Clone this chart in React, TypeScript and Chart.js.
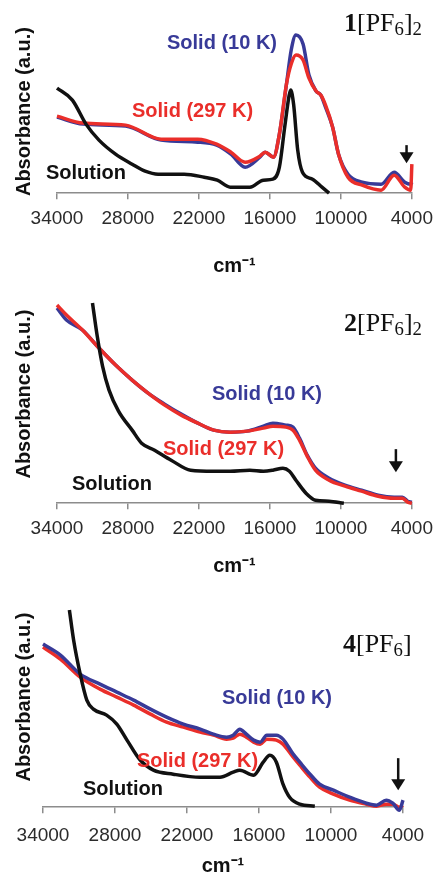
import React, { useEffect, useRef } from "react";
import { Chart, registerables } from "chart.js";

Chart.register(...registerables);

// ---------- data ----------
const X_TICKS = [34000, 28000, 22000, 16000, 10000, 4000];

// Panel 1 : 1[PF6]2
const P1_SOLID_WN = [34000, 31800, 28200, 25200, 22100, 20500, 19300, 18100, 16850, 16400, 15700, 15200, 14600, 14200, 13800, 13200, 12700, 12100, 11700, 11300, 10700, 10200, 9400, 8200, 6600, 5500, 4600, 4100, 4000];
const P1_SOLID_10K = [0.76, 0.69, 0.67, 0.53, 0.51, 0.48, 0.39, 0.26, 0.36, 0.41, 0.36, 0.59, 1.09, 1.43, 1.58, 1.49, 1.18, 1.02, 0.98, 0.86, 0.66, 0.39, 0.19, 0.11, 0.09, 0.21, 0.11, 0.09, 0.11];
const P1_SOLID_297K = [0.77, 0.70, 0.68, 0.54, 0.54, 0.49, 0.41, 0.31, 0.37, 0.41, 0.36, 0.59, 1.09, 1.29, 1.38, 1.33, 1.15, 1.02, 0.98, 0.88, 0.66, 0.39, 0.16, 0.08, 0.03, 0.18, 0.06, 0.03, 0.29];
const P1_SOLN_WN = [34000, 32700, 31550, 30450, 29050, 27650, 26550, 25450, 23250, 21550, 20450, 19350, 17700, 16550, 15750, 15200, 14750, 14400, 14250, 14000, 13650, 13250, 12400, 11600, 11000];
const P1_SOLN = [1.05, 0.93, 0.69, 0.53, 0.39, 0.29, 0.22, 0.19, 0.19, 0.16, 0.13, 0.06, 0.06, 0.13, 0.14, 0.26, 0.66, 0.96, 1.03, 0.89, 0.43, 0.21, 0.14, 0.06, 0.0];

// Panel 2 : 2[PF6]2
const P2_SOLID_WN = [34000, 33200, 31850, 30450, 29050, 27650, 26300, 24900, 23500, 22100, 20750, 19350, 17950, 16550, 15750, 14650, 14050, 13500, 12850, 12150, 11000, 9650, 8250, 6850, 5500, 4800, 4350, 4000];
const P2_SOLID_10K = [1.95, 1.83, 1.73, 1.55, 1.38, 1.23, 1.10, 0.99, 0.89, 0.80, 0.73, 0.71, 0.72, 0.77, 0.80, 0.78, 0.76, 0.65, 0.48, 0.35, 0.25, 0.18, 0.13, 0.08, 0.06, 0.06, 0.02, 0.01];
const P2_SOLID_297K = [1.98, 1.88, 1.73, 1.55, 1.38, 1.23, 1.10, 0.98, 0.88, 0.80, 0.73, 0.71, 0.72, 0.75, 0.77, 0.76, 0.73, 0.63, 0.47, 0.33, 0.23, 0.17, 0.12, 0.07, 0.05, 0.05, 0.01, 0.0];
const P2_SOLN_WN = [31000, 30600, 30150, 29600, 28800, 27650, 26850, 25750, 24350, 22700, 20750, 19350, 17700, 16550, 15750, 14900, 14350, 13800, 12950, 12150, 11000, 9750];
const P2_SOLN = [2.0, 1.67, 1.37, 1.13, 0.92, 0.73, 0.60, 0.53, 0.43, 0.33, 0.32, 0.32, 0.33, 0.32, 0.33, 0.35, 0.32, 0.23, 0.10, 0.03, 0.02, 0.0];

// Panel 3 : 4[PF6]
const P3_SOLID_WN = [34000, 32550, 30900, 29250, 27850, 26450, 25050, 23700, 22300, 20900, 19800, 18700, 18150, 17600, 17050, 16450, 15900, 15350, 14550, 14000, 13150, 12600, 11750, 10950, 9800, 8450, 7050, 6200, 5400, 4850, 4300, 4000];
const P3_SOLID_10K = [1.63, 1.52, 1.33, 1.23, 1.15, 1.07, 0.98, 0.90, 0.83, 0.78, 0.73, 0.70, 0.72, 0.78, 0.73, 0.67, 0.65, 0.72, 0.72, 0.68, 0.53, 0.45, 0.33, 0.23, 0.17, 0.10, 0.04, 0.02, 0.07, 0.04, -0.03, 0.07];
const P3_SOLID_297K = [1.60, 1.48, 1.30, 1.18, 1.10, 1.02, 0.93, 0.85, 0.80, 0.75, 0.72, 0.68, 0.69, 0.73, 0.70, 0.65, 0.63, 0.68, 0.67, 0.63, 0.50, 0.42, 0.30, 0.20, 0.13, 0.07, 0.03, 0.01, 0.03, 0.03, 0.0, 0.02];
const P3_SOLN_WN = [31800, 31450, 30900, 30350, 29800, 28700, 27850, 27000, 25900, 24800, 23150, 20900, 19250, 18150, 17600, 16450, 15650, 15100, 14550, 14000, 13450, 12600, 11350];
const P3_SOLN = [1.97, 1.67, 1.33, 1.07, 0.98, 0.92, 0.83, 0.67, 0.47, 0.37, 0.33, 0.30, 0.30, 0.35, 0.37, 0.32, 0.45, 0.52, 0.45, 0.23, 0.10, 0.03, 0.01];

// arrow marks (wavenumber, from / to absorbance)
const P1_ARROW = [4450, 0.48, 0.3];
const P2_ARROW = [5350, 0.54, 0.31];
const P3_ARROW = [4400, 0.49, 0.17];

// ---------- styles ----------
const SANS = '"Liberation Sans", Arial, Helvetica, sans-serif';
const SERIF = '"Liberation Serif", "Times New Roman", serif';
const BLUE = "#383a98";
const RED = "#ea2e2a";
const BLACK = "#111111";
const GREY = "#8c8c8c";

type Series = { wn: number[]; abs: number[]; color: string };
type PanelCfg = {
  height: number;
  padTop: number;
  padRight: number;
  yMax: number;
  yTitlePadBottom: number;
  tickPad: number;
  xTitlePadTop: number;
  xTitleLH: number;
  series: Series[];
  arrow: number[];
};

function makeArrowPlugin(arrow: number[]) {
  return {
    id: "arrowMark",
    afterDatasetsDraw(chart: any) {
      const { ctx, scales } = chart;
      const px = scales.x.getPixelForValue(arrow[0]);
      const y1 = scales.y.getPixelForValue(arrow[1]);
      const y2 = scales.y.getPixelForValue(arrow[2]);
      ctx.save();
      ctx.strokeStyle = "#111";
      ctx.fillStyle = "#111";
      ctx.lineWidth = 2.5;
      ctx.beginPath();
      ctx.moveTo(px, y1);
      ctx.lineTo(px, y2 - 8);
      ctx.stroke();
      ctx.beginPath();
      ctx.moveTo(px - 7, y2 - 11);
      ctx.lineTo(px + 7, y2 - 11);
      ctx.lineTo(px, y2);
      ctx.closePath();
      ctx.fill();
      ctx.restore();
    },
  };
}

function buildChart(canvas: HTMLCanvasElement, cfg: PanelCfg) {
  return new Chart(canvas, {
    type: "line",
    data: {
      datasets: cfg.series.map((s) => ({
        data: s.wn.map((x, i) => ({ x, y: s.abs[i] })),
        borderColor: s.color,
        backgroundColor: s.color,
        borderWidth: 3.5,
        pointRadius: 0,
        fill: false,
        cubicInterpolationMode: "monotone" as const,
        clip: 8,
      })),
    },
    options: {
      responsive: false,
      animation: false,
      devicePixelRatio: 1,
      layout: { padding: { top: cfg.padTop, left: 0, right: cfg.padRight, bottom: 0 } },
      plugins: { legend: { display: false }, tooltip: { enabled: false } },
      scales: {
        x: {
          type: "linear",
          min: 4000,
          max: 34000,
          reverse: true,
          afterBuildTicks: (axis: any) => {
            axis.ticks = X_TICKS.map((value) => ({ value }));
          },
          ticks: {
            callback: (v: any) => String(v),
            font: { family: SANS, size: 19 },
            color: "#2b2b2b",
            padding: cfg.tickPad,
            maxRotation: 0,
            autoSkip: false,
          },
          grid: {
            display: true,
            drawOnChartArea: false,
            drawTicks: true,
            tickLength: 6,
            color: GREY,
            lineWidth: 1.5,
          },
          border: { display: true, color: GREY, width: 1.5 },
          title: {
            display: true,
            text: "cm\u207B\u00B9",
            font: { family: SANS, size: 20, weight: "bold", lineHeight: cfg.xTitleLH },
            color: "#111",
            padding: { top: cfg.xTitlePadTop, bottom: 0 },
          },
        },
        y: {
          type: "linear",
          min: 0,
          max: cfg.yMax,
          ticks: { display: false },
          grid: { display: false, drawTicks: false },
          border: { display: false },
          title: {
            display: true,
            text: "Absorbance (a.u.)",
            font: { family: SANS, size: 20, weight: "bold" },
            color: "#111",
            padding: { top: 12, bottom: cfg.yTitlePadBottom },
          },
        },
      },
    },
    plugins: [makeArrowPlugin(cfg.arrow)],
  } as any);
}

const PANELS: { top: number; cfg: PanelCfg }[] = [
  {
    top: 0,
    cfg: {
      height: 278, padTop: 30, padRight: 23, yMax: 1.63, yTitlePadBottom: 21,
      tickPad: 8, xTitlePadTop: 16, xTitleLH: 1.2,
      series: [
        { wn: P1_SOLN_WN, abs: P1_SOLN, color: BLACK },
        { wn: P1_SOLID_WN, abs: P1_SOLID_297K, color: RED },
        { wn: P1_SOLID_WN, abs: P1_SOLID_10K, color: BLUE },
      ],
      arrow: P1_ARROW,
    },
  },
  {
    top: 280,
    cfg: {
      height: 298, padTop: 5, padRight: 23, yMax: 2.18, yTitlePadBottom: 21,
      tickPad: 8, xTitlePadTop: 6, xTitleLH: 1.2,
      series: [
        { wn: P2_SOLN_WN, abs: P2_SOLN, color: BLACK },
        { wn: P2_SOLID_WN, abs: P2_SOLID_297K, color: RED },
        { wn: P2_SOLID_WN, abs: P2_SOLID_10K, color: BLUE },
      ],
      arrow: P2_ARROW,
    },
  },
  {
    top: 580,
    cfg: {
      height: 294, padTop: 7, padRight: 38, yMax: 2.2, yTitlePadBottom: 7,
      tickPad: 11, xTitlePadTop: 0, xTitleLH: 0.8,
      series: [
        { wn: P3_SOLN_WN, abs: P3_SOLN, color: BLACK },
        { wn: P3_SOLID_WN, abs: P3_SOLID_10K, color: BLUE },
        { wn: P3_SOLID_WN, abs: P3_SOLID_297K, color: RED },
      ],
      arrow: P3_ARROW,
    },
  },
];

const LABELS = [
  { text: "Solid (10 K)", color: BLUE, left: 167, top: 30 },
  { text: "Solid (297 K)", color: RED, left: 132, top: 98 },
  { text: "Solution", color: BLACK, left: 46, top: 160 },
  { text: "Solid (10 K)", color: BLUE, left: 212, top: 381 },
  { text: "Solid (297 K)", color: RED, left: 163, top: 436 },
  { text: "Solution", color: BLACK, left: 72, top: 471 },
  { text: "Solid (10 K)", color: BLUE, left: 222, top: 685 },
  { text: "Solid (297 K)", color: RED, left: 137, top: 748 },
  { text: "Solution", color: BLACK, left: 83, top: 776 },
];

const subStyle: React.CSSProperties = { fontSize: "0.72em", verticalAlign: "-0.22em", lineHeight: 0 };

function Title({ num, sub2, top, left }: { num: string; sub2: boolean; top: number; left: number }) {
  return (
    <div
      style={{
        position: "absolute", top, left, fontFamily: SERIF, fontSize: 26, lineHeight: "30px",
        color: "#111", whiteSpace: "nowrap",
      }}
    >
      <b>{num}</b>[PF<span style={subStyle}>6</span>]{sub2 ? <span style={subStyle}>2</span> : null}
    </div>
  );
}

export default function App() {
  const r0 = useRef<HTMLCanvasElement>(null);
  const r1 = useRef<HTMLCanvasElement>(null);
  const r2 = useRef<HTMLCanvasElement>(null);
  const refs = [r0, r1, r2];

  useEffect(() => {
    const charts = PANELS.map((p, i) => buildChart(refs[i].current as HTMLCanvasElement, p.cfg));
    return () => charts.forEach((c) => c.destroy());
  }, []);

  return (
    <div style={{ position: "absolute", left: 0, top: 0, width: 441, height: 878, background: "#fff", overflow: "hidden" }}>
      {PANELS.map((p, i) => (
        <canvas
          key={i}
          ref={refs[i]}
          width={441}
          height={p.cfg.height}
          style={{ position: "absolute", left: 0, top: p.top, width: 441, height: p.cfg.height }}
        />
      ))}
      {LABELS.map((l, i) => (
        <div
          key={i}
          style={{
            position: "absolute", left: l.left, top: l.top, color: l.color, fontFamily: SANS,
            fontWeight: "bold", fontSize: 20, lineHeight: "24px", whiteSpace: "nowrap",
          }}
        >
          {l.text}
        </div>
      ))}
      <Title num="1" sub2={true} top={8} left={344} />
      <Title num="2" sub2={true} top={308} left={344} />
      <Title num="4" sub2={false} top={629} left={343} />
    </div>
  );
}
